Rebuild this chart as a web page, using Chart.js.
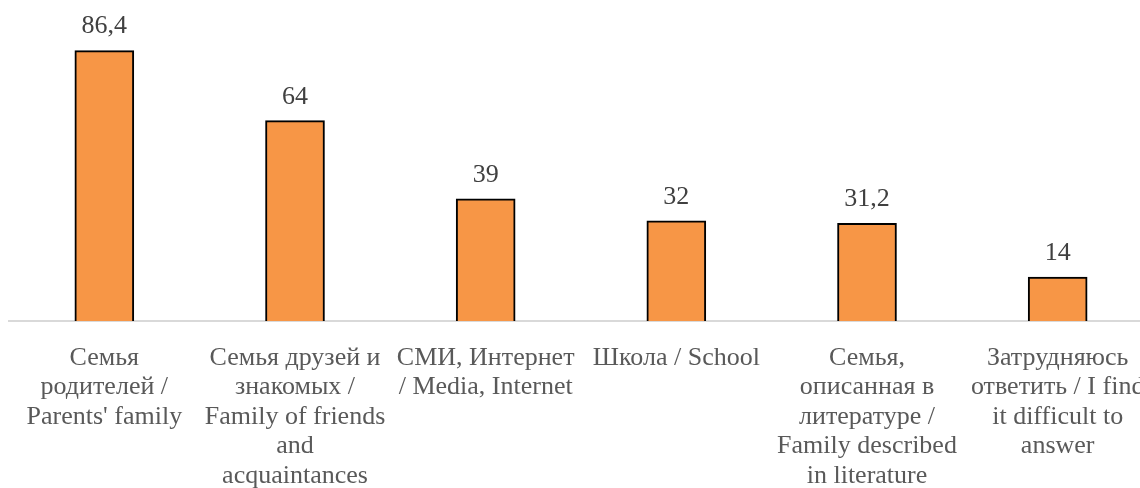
<!DOCTYPE html>
<html>
<head>
<meta charset="utf-8">
<script src="https://cdn.jsdelivr.net/npm/chart.js@4"></script>
<style>
  html, body { margin: 0; padding: 0; overflow: hidden; background: #fff; width: 1140px; height: 488px; }
  #wrap { position: absolute; left: 0; top: 0; width: 1160px; height: 488px; }
</style>
</head>
<body>
<div id="wrap"><canvas id="c"></canvas></div>
<script>
const categories = [
  ["Семья", "родителей /", "Parents' family"],
  ["Семья друзей и", "знакомых /", "Family of friends", "and", "acquaintances"],
  ["СМИ, Интернет", "/ Media, Internet"],
  ["Школа / School"],
  ["Семья,", "описанная в", "литературе /", "Family described", "in literature"],
  ["Затрудняюсь", "ответить / I find", "it difficult to", "answer"]
];
const values = [86.4, 64, 39, 32, 31.2, 14];
const valueLabels = ["86,4", "64", "39", "32", "31,2", "14"];

const valueLabelPlugin = {
  id: 'valueLabels',
  afterDatasetsDraw(chart) {
    const ctx = chart.ctx;
    const meta = chart.getDatasetMeta(0);
    ctx.save();
    ctx.font = '26px "Liberation Serif", "Times New Roman", serif';
    ctx.fillStyle = '#404040';
    ctx.textAlign = 'center';
    ctx.textBaseline = 'middle';
    meta.data.forEach((el, i) => {
      ctx.fillText(valueLabels[i], el.x, el.y - 24);
    });
    ctx.restore();
  }
};

new Chart(document.getElementById('c'), {
  type: 'bar',
  data: {
    labels: categories,
    datasets: [{
      data: values,
      backgroundColor: '#F79646',
      borderColor: '#000000',
      borderWidth: 2,
      barThickness: 59
    }]
  },
  options: {
    responsive: true,
    maintainAspectRatio: false,
    animation: false,
    layout: { padding: { left: 9, right: 7, top: 8, bottom: 0 } },
    plugins: { legend: { display: false }, tooltip: { enabled: false } },
    scales: {
      x: {
        grid: { display: false },
        border: { display: true, color: '#d9d9d9', width: 2 },
        afterFit: (scale) => { scale.height = 167; },
        ticks: {
          autoSkip: false,
          maxRotation: 0,
          minRotation: 0,
          padding: 14,
          color: '#595959',
          font: { family: '"Liberation Serif", "Times New Roman", serif', size: 26, lineHeight: 1.135 }
        }
      },
      y: {
        display: false,
        min: 0,
        max: 100
      }
    }
  },
  plugins: [valueLabelPlugin]
});
</script>
</body>
</html>
